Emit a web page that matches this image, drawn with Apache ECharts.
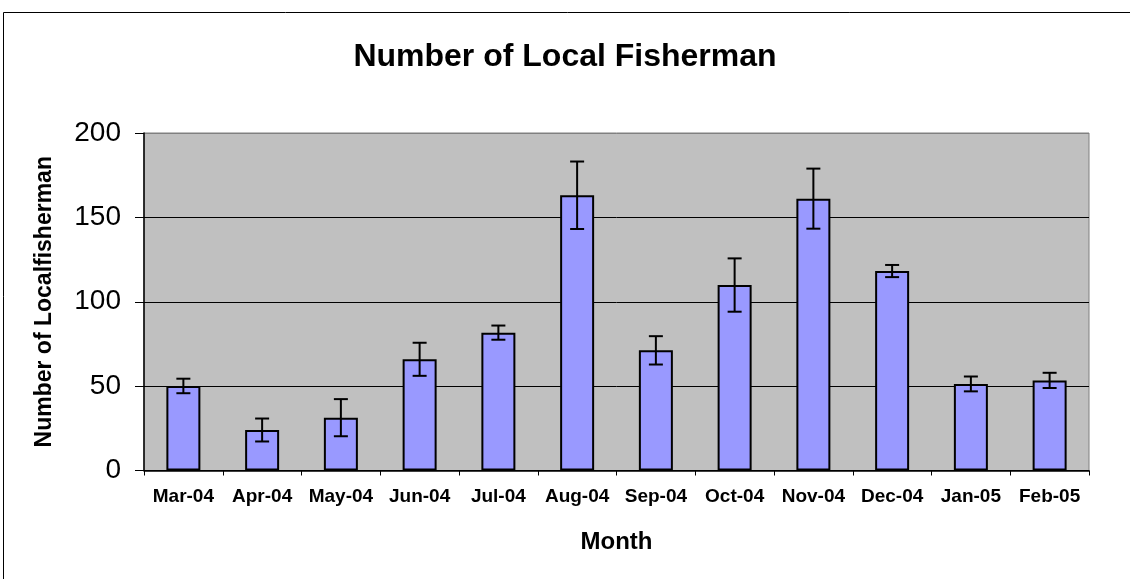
<!DOCTYPE html>
<html>
<head>
<meta charset="utf-8">
<script src="https://cdn.jsdelivr.net/npm/echarts@6/dist/echarts.min.js"></script>
<style>
  html, body { margin: 0; padding: 0; background: #fff; }
  #chart { width: 1130px; height: 579px; }
</style>
</head>
<body>
<div id="chart"></div>
<script>
// data
var months = ['Mar-04','Apr-04','May-04','Jun-04','Jul-04','Aug-04','Sep-04','Oct-04','Nov-04','Dec-04','Jan-05','Feb-05'];
var fishermen = [50.1, 24, 31.3, 65.9, 81.7, 163.1, 71.2, 109.9, 161.1, 118.2, 51.3, 53.4];
var errors = [4.3, 6.8, 11, 9.8, 4.2, 20, 8.4, 15.8, 17.8, 3.6, 4.4, 4.5];
var yTicks = [0, 50, 100, 150, 200];

var font = '"Liberation Sans", Arial, sans-serif';

var errData = fishermen.map(function (v, i) {
  return [i, v - errors[i], v + errors[i]];
});

var myChart = echarts.init(document.getElementById('chart'));

myChart.setOption({
  animation: false,
  title: {
    text: 'Number of Local Fisherman',
    left: 'center',
    top: 36,
    textStyle: { color: '#000', fontFamily: font, fontWeight: 'bold', fontSize: 32 }
  },
  graphic: [{
    // outer chart area border (only top and left visible)
    type: 'rect',
    shape: { x: 3.5, y: 12.5, width: 1300, height: 800 },
    style: { fill: 'none', stroke: '#000', lineWidth: 1 },
    silent: true
  }],
  grid: {
    left: 144,
    right: 41,
    top: 133,
    bottom: 108.5,
    show: true,
    backgroundColor: '#c0c0c0',
    borderColor: '#808080',
    borderWidth: 1
  },
  xAxis: {
    type: 'category',
    data: months,
    name: 'Month',
    nameLocation: 'middle',
    nameGap: 60,
    nameTextStyle: { color: '#000', fontFamily: font, fontWeight: 'bold', fontSize: 24 },
    axisLine: { lineStyle: { color: '#000', width: 1.5 } },
    axisTick: { show: true, length: 5, lineStyle: { color: '#000' } },
    axisLabel: { color: '#000', fontFamily: font, fontWeight: 'bold', fontSize: 19, margin: 17, interval: 0 },
    splitLine: { show: false }
  },
  yAxis: {
    type: 'value',
    min: yTicks[0],
    max: yTicks[yTicks.length - 1],
    interval: yTicks[1] - yTicks[0],
    name: 'Number of Localfisherman',
    nameLocation: 'middle',
    nameGap: 88,
    nameTextStyle: { color: '#000', fontFamily: font, fontWeight: 'bold', fontSize: 23 },
    axisLine: { show: true, lineStyle: { color: '#000', width: 1.5 } },
    axisTick: { show: true, length: 9, lineStyle: { color: '#000' } },
    axisLabel: { color: '#000', fontFamily: font, fontSize: 28, margin: 23 },
    // top gridline stays grey like the plot border
    splitLine: { show: true, lineStyle: { color: ['#000', '#000', '#000', '#000', '#808080'], width: 1 } }
  },
  series: [
    {
      name: 'Number of Local Fisherman',
      type: 'bar',
      data: fishermen,
      barWidth: 34,
      itemStyle: { color: '#9999ff', borderColor: '#000', borderWidth: 2 },
      z: 2
    },
    {
      name: 'error',
      type: 'custom',
      data: errData,
      z: 3,
      renderItem: function (params, api) {
        var x = api.value(0);
        var lo = api.coord([x, api.value(1)]);
        var hi = api.coord([x, api.value(2)]);
        var half = 7;
        var st = { stroke: '#000', lineWidth: 2 };
        return {
          type: 'group',
          children: [
            { type: 'line', shape: { x1: hi[0], y1: hi[1], x2: lo[0], y2: lo[1] }, style: st },
            { type: 'line', shape: { x1: hi[0] - half, y1: hi[1], x2: hi[0] + half, y2: hi[1] }, style: st },
            { type: 'line', shape: { x1: lo[0] - half, y1: lo[1], x2: lo[0] + half, y2: lo[1] }, style: st }
          ]
        };
      }
    }
  ]
});
</script>
</body>
</html>
